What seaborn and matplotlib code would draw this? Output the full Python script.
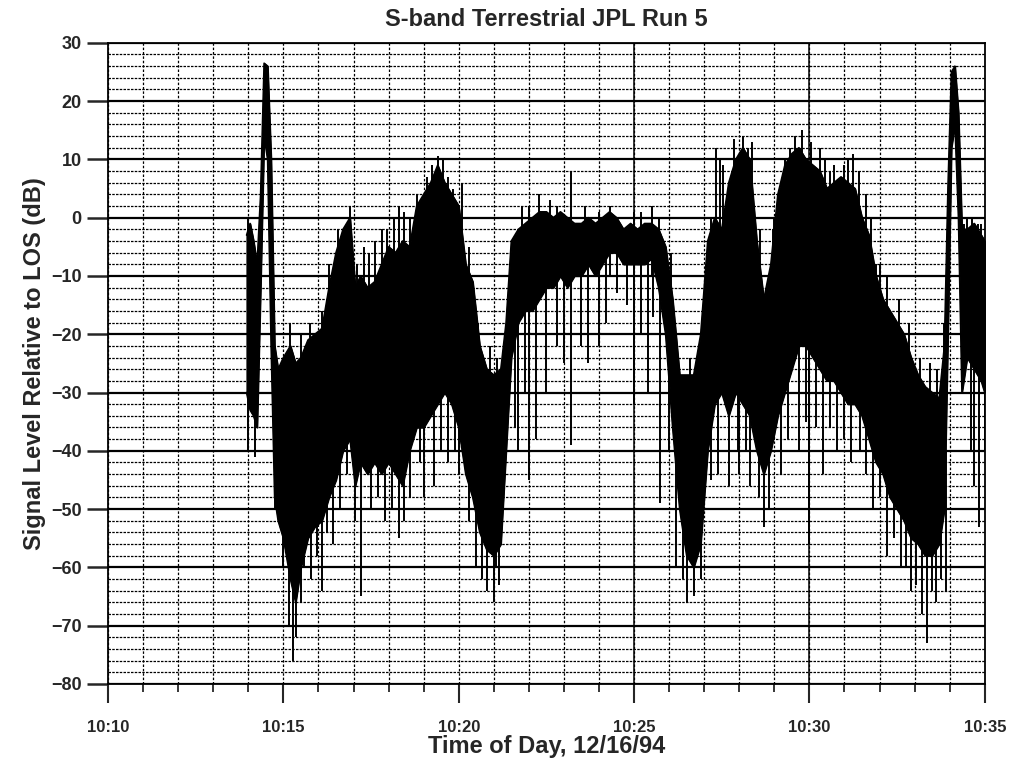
import matplotlib
matplotlib.use("Agg")
import matplotlib.pyplot as plt
from matplotlib.ticker import MultipleLocator, FuncFormatter
import pandas as pd
import seaborn as sns

# dense part of the trace: time (minutes past 10:00), top and bottom of the black band (dB)
t_core = [13.95, 14.05, 14.15, 14.25, 14.35, 14.45, 14.55, 14.65, 14.75, 14.85,
          15.0, 15.2, 15.35, 15.5, 15.7, 15.9, 16.1, 16.3, 16.5, 16.7,
          16.9, 17.05, 17.2, 17.4, 17.6, 17.8, 18.0, 18.2, 18.4, 18.6,
          18.8, 19.0, 19.2, 19.4, 19.6, 19.8, 20.0, 20.2, 20.4, 20.6,
          20.8, 21.0, 21.2, 21.35, 21.5, 21.7, 21.9, 22.1, 22.3, 22.5,
          22.7, 22.9, 23.1, 23.3, 23.5, 23.7, 23.9, 24.1, 24.3, 24.5,
          24.7, 24.9, 25.1, 25.3, 25.5, 25.7, 25.9, 26.1, 26.3, 26.5,
          26.7, 26.9, 27.1, 27.3, 27.5, 27.7, 27.9, 28.1, 28.3, 28.5,
          28.7, 28.9, 29.1, 29.3, 29.5, 29.7, 29.9, 30.1, 30.3, 30.5,
          30.7, 30.9, 31.1, 31.3, 31.5, 31.7, 31.9, 32.1, 32.3, 32.5,
          32.7, 32.9, 33.1, 33.3, 33.5, 33.7, 33.85, 33.95, 34.05, 34.15,
          34.25, 34.35, 34.5, 34.7, 34.9, 35.0]
core_hi = [-3, -1, -4, -8, 4, 26.5, 26, 10, -22, -26,
           -24, -22, -25, -24, -21, -20, -19, -12, -6, -2,
           0, -12, -10, -12, -11, -8, -5, -6, -4, -5,
           2, 4, 6, 9, 6, 4, 2, -8, -11, -22,
           -26, -27, -26, -18, -4, -2, -1, 0, 1, 1,
           0, 1, 0, -1, -1, 0, -1, 0, 1, 0,
           -2, -1, -2, -1, -1, -2, -5, -14, -27, -27,
           -27, -20, -4, 0, -2, 6, 10, 12, 10, -4,
           -14, -8, 4, 9, 11, 12, 10, 9, 8, 5,
           6, 7, 6, 5, 0, -3, -10, -14, -16, -18,
           -20, -24, -27, -29, -30, -31, -22, 5, 25, 26,
           18, -2, -2, -1, -3, -4]
core_lo = [-30, -33, -34, -36, -12, 14, 10, -22, -48, -52,
           -55, -62, -66, -60, -55, -53, -52, -48, -45, -40,
           -38, -46, -42, -44, -42, -44, -42, -44, -46, -40,
           -36, -36, -34, -32, -30, -32, -36, -44, -48, -54,
           -57, -58, -56, -40, -24, -18, -16, -16, -14, -12,
           -12, -10, -12, -10, -10, -8, -10, -8, -6, -6,
           -8, -8, -8, -8, -7, -12, -20, -36, -50, -58,
           -60, -56, -40, -32, -30, -34, -30, -32, -34, -40,
           -44, -40, -34, -30, -26, -22, -22, -24, -26, -28,
           -28, -30, -32, -32, -34, -38, -42, -44, -48, -50,
           -52, -55, -56, -58, -58, -56, -50, -20, 12, 16,
           0, -30, -24, -26, -28, -30]

# deep fades hanging below the band
down_t = [14.0, 14.2, 14.75, 15.0, 15.15, 15.26, 15.35, 15.5, 15.6, 15.8,
          15.95, 16.1, 16.25, 16.4, 16.6, 16.8, 17.05, 17.2, 17.5, 17.7,
          17.9, 18.1, 18.3, 18.45, 18.6, 18.9, 19.0, 19.3, 19.5, 19.7,
          19.9, 20.0, 20.3, 20.5, 20.65, 20.8, 21.0, 21.05, 21.15, 21.6,
          21.7, 21.9, 22.0, 22.2, 22.5, 22.8, 23.0, 23.2, 23.5, 23.7,
          24.0, 24.2, 24.5, 24.8, 25.0, 25.2, 25.4, 25.55, 25.75, 26.0,
          26.2, 26.4, 26.5, 26.7, 26.9, 27.2, 27.4, 27.7, 27.95, 28.0,
          28.2, 28.3, 28.55, 28.7, 28.85, 29.2, 29.4, 29.7, 29.9, 29.98,
          30.2, 30.4, 30.6, 30.8, 31.0, 31.2, 31.45, 31.6, 31.8, 32.0,
          32.2, 32.4, 32.6, 32.75, 32.9, 33.05, 33.2, 33.35, 33.5, 33.6,
          33.75, 33.9, 34.6, 34.7, 34.85, 35.0]
down_lo = [-40, -41, -50, -60, -70, -76, -72, -66, -60, -62,
           -58, -64, -54, -56, -50, -44, -52, -65, -50, -48,
           -52, -50, -55, -52, -48, -42, -48, -46, -40, -42,
           -40, -44, -52, -60, -62, -64, -66, -60, -63, -36,
           -40, -30, -45, -38, -30, -22, -25, -39, -22, -25,
           -22, -18, -13, -15, -32, -20, -30, -17, -49, -40,
           -60, -62, -66, -65, -62, -45, -44, -46, -40, -44,
           -40, -46, -48, -53, -50, -44, -38, -40, -35, -56,
           -36, -44, -36, -40, -38, -42, -40, -44, -50, -48,
           -58, -55, -60, -60, -64, -63, -68, -73, -64, -66,
           -62, -64, -40, -46, -53, -40]
down_hi = [-20, -20, -30, -40, -40, -40, -40, -40, -45, -40,
           -40, -40, -40, -30, -20, -30, -40, -30, -20, -30,
           -20, -30, -20, -35, -20, -30, -20, -20, -25, -15,
           -25, -20, -35, -30, -45, -40, -40, -50, -40, -15,
           -10, -10, -10, -10, -10, -8, -8, -10, -8, -5,
           -5, -5, -4, -5, -5, -5, -5, -5, -10, -15,
           -30, -45, -40, -40, -50, -30, -20, -20, -25, -15,
           -25, -20, -35, -30, -35, -20, -25, -15, -20, -10,
           -20, -10, -25, -10, -25, -15, -30, -30, -20, -40,
           -30, -45, -30, -50, -40, -50, -40, -40, -55, -40,
           -50, -40, -20, -20, -20, -25]

# short peaks sticking up out of the band
up_t = [14.0, 15.2, 15.5, 15.75, 16.1, 16.3, 16.55, 16.9, 17.1, 17.3,
        17.45, 17.6, 17.8, 17.95, 18.15, 18.3, 18.45, 18.6, 18.8, 19.1,
        19.25, 19.4, 19.55, 19.7, 19.85, 20.1, 20.3, 20.55, 20.9, 21.1,
        21.8, 22.0, 22.3, 22.6, 22.8, 23.2, 23.6, 24.0, 24.3, 25.0,
        25.2, 25.5, 25.7, 26.05, 26.6, 27.2, 27.35, 27.45, 27.55, 27.85,
        28.1, 28.25, 28.35, 28.6, 28.95, 29.0, 29.3, 29.45, 29.6, 29.8,
        30.05, 30.3, 30.45, 30.6, 30.7, 31.0, 31.1, 31.25, 31.4, 31.6,
        31.75, 31.9, 32.0, 32.2, 32.55, 32.85, 33.15, 33.45, 33.65, 33.85,
        34.4, 34.5, 34.65, 34.8, 34.9]
up_hi = [0, -18, -20, -18, -16, -8, -2, 2, -8, -5,
         -6, -4, -2, -2, 0, 2, 1, 0, 4, 7,
         9, 10.5, 10, 7, 5, 6, -5, -18, -22, -24,
         2, 2, 4, 3, 2, 8, 2, 1, 2, 1,
         1, 2, 0, -6, -24, 0, 12, 10, 9, 13.5,
         14, 12, 13, -2, -2, 0, 10, 12, 14, 15,
         13, 12, 10, 8, 9, 9, 10, 11, 8, 4,
         0, -8, -8, -10, -14, -18, -24, -25, -26, -18,
         -1, 0, 0, -1, -1]
up_lo = [-20, -40, -30, -28, -30, -20, -15, -15, -20, -20,
         -20, -20, -15, -15, -10, -10, -10, -15, -10, -10,
         0, -10, 0, 0, -10, -10, -15, -28, -30, -30,
         -10, -5, -10, -5, -5, -10, -5, -5, -10, -5,
         -10, -10, -8, -15, -30, -10, -10, -5, -10, -10,
         -10, 0, -10, -10, -10, -10, -10, 0, -10, -10,
         -10, -10, 0, 0, -10, -10, 0, -10, 0, -10,
         -10, -15, -15, -18, -20, -26, -30, -32, -33, -30,
         -10, -10, -10, -10, -10]

df = pd.DataFrame({"t": t_core, "hi": core_hi, "lo": core_lo})

sns.set_style("ticks")
plt.rcParams['font.family'] = ['Liberation Sans', 'DejaVu Sans']
plt.rcParams['font.weight'] = 'bold'

fig = plt.figure(figsize=(10.1, 7.65), dpi=100)
ax = fig.add_axes([0.107, 0.106, 0.868, 0.838])

# grid
ax.set_xlim(10, 35)
ax.set_ylim(-80, 30)
ax.xaxis.set_major_locator(MultipleLocator(5))
ax.xaxis.set_minor_locator(MultipleLocator(1))
ax.yaxis.set_major_locator(MultipleLocator(10))
ax.yaxis.set_minor_locator(MultipleLocator(2))
ax.grid(which='major', axis='y', color='black', lw=1.6, ls='-')
ax.grid(which='minor', axis='y', color='black', lw=0.9, ls=(0, (2, 1)))
ax.grid(which='both', axis='x', color='black', lw=0.9, ls=(0, (2, 1.5)))
for v in (25, 30):
    ax.axvline(v, color='black', lw=1.1)
ax.set_axisbelow(True)

# trace
ax.fill_between(df["t"], df["lo"], df["hi"], color='black', lw=1.0, zorder=3)
sns.lineplot(data=df, x="t", y="hi", color='black', lw=1.2, ax=ax, zorder=3)
sns.lineplot(data=df, x="t", y="lo", color='black', lw=1.2, ax=ax, zorder=3)
ax.vlines(down_t, down_lo, down_hi, color='black', lw=1.4, zorder=3)
ax.vlines(up_t, up_lo, up_hi, color='black', lw=1.4, zorder=3)

ax.xaxis.set_major_formatter(FuncFormatter(lambda v, p: f"10:{int(v):02d}"))
ax.tick_params(axis='x', which='major', direction='out', length=14, width=1.5, pad=12, labelsize=12)
ax.tick_params(axis='x', which='minor', direction='out', length=6, width=1.3)
ax.tick_params(axis='y', which='major', direction='out', length=15, width=1.8, pad=4, labelsize=13)
ax.tick_params(axis='y', which='minor', length=0)
for lab in ax.get_xticklabels() + ax.get_yticklabels():
    lab.set_fontweight('bold')
for s in ax.spines.values():
    s.set_linewidth(1.3)
    s.set_color('black')

ax.set_xlabel("Time of Day, 12/16/94", fontsize=17, fontweight='bold', labelpad=0)
ax.set_ylabel("Signal Level Relative to LOS (dB)", fontsize=17, fontweight='bold', labelpad=4)
ax.set_title("S-band Terrestrial JPL Run 5", fontsize=17, fontweight='bold', pad=12)

fig.savefig("out.png", dpi=100)
